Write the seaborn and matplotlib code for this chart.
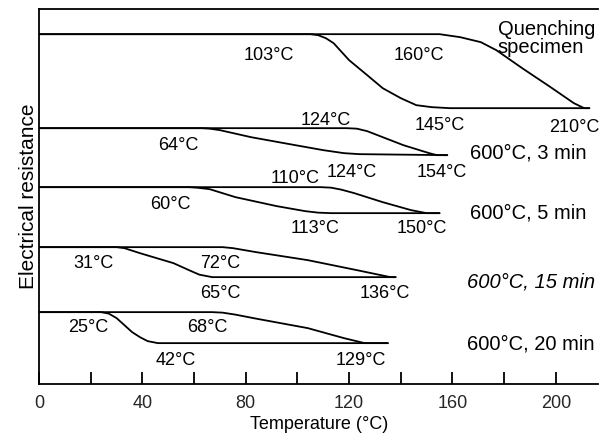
import pandas as pd
import matplotlib.pyplot as plt
import numpy as np
import seaborn as sns
from matplotlib.ticker import MultipleLocator

# Curves: temperature (C) vs relative resistance (arbitrary units)
# Quenching specimen
q_low_t = [0, 105, 108, 111, 114, 120, 127, 133, 140, 146, 152, 159, 213]
q_low_r = [350, 350, 349, 346, 341, 324, 309, 296, 286, 279, 277, 276, 276]
q_up_t = [0, 155, 163, 171, 177, 187, 198, 207, 211, 213]
q_up_r = [350, 350, 347, 342, 334, 316, 297, 281, 276, 276]
# 600C, 3 min
m3_low_t = [0, 63, 66, 70, 82, 97, 110, 118, 124, 158]
m3_low_r = [256, 256, 255.5, 254, 247, 240, 234, 231, 230, 229]
m3_up_t = [0, 119, 123, 127, 131, 141, 151, 154, 158]
m3_up_r = [256, 256, 255.5, 253, 249, 239, 231, 229, 229]
# 600C, 5 min
m5_low_t = [0, 58, 61, 66, 76, 92, 103, 108, 113, 155]
m5_low_r = [197, 197, 196.5, 195, 187, 178, 173, 171.5, 171, 171]
m5_up_t = [0, 109, 113, 117, 122, 133, 144, 150, 155]
m5_up_r = [197, 197, 196.5, 194.5, 191, 182, 174, 171, 171]
# 600C, 15 min
m15_low_t = [0, 30, 33, 39, 52, 58, 62, 67, 138]
m15_low_r = [137, 137, 136, 131, 121, 114, 109.5, 107, 107]
m15_up_t = [0, 71, 75, 84, 104, 123, 136, 138]
m15_up_r = [137, 137, 136, 132, 124, 114, 107, 107]
# 600C, 20 min
m20_low_t = [0, 24, 27, 30, 33, 36, 39, 42, 46, 135]
m20_low_r = [72, 72, 70.5, 66, 59, 52, 47, 43, 41, 41]
m20_up_t = [0, 67, 71, 76, 84, 104, 118, 126, 135]
m20_up_r = [72, 72, 71.5, 69.5, 65.5, 56, 46, 41, 41]

branches = [(q_low_t, q_low_r), (q_up_t, q_up_r),
            (m3_low_t, m3_low_r), (m3_up_t, m3_up_r),
            (m5_low_t, m5_low_r), (m5_up_t, m5_up_r),
            (m15_low_t, m15_low_r), (m15_up_t, m15_up_r),
            (m20_low_t, m20_low_r), (m20_up_t, m20_up_r)]

# temperature labels: text, T, r
temp_labels = ['103°C', '160°C', '145°C', '210°C',
               '124°C', '64°C', '124°C', '154°C',
               '110°C', '60°C', '113°C', '150°C',
               '31°C', '72°C', '65°C', '136°C',
               '25°C', '68°C', '42°C', '129°C']
temp_x = [89, 147, 155, 207,
          111, 54, 121, 156,
          99, 51, 107, 148,
          21, 70, 70, 134,
          19, 65, 53, 124.5]
temp_y = [329, 329, 259, 257,
          264, 239, 212, 212,
          206, 180, 156, 156,
          121, 121, 91, 91,
          57, 57, 24, 24]

cond_labels = ['Quenching\nspecimen', '600°C, 3 min', '600°C, 5 min',
               '600°C, 15 min', '600°C, 20 min']
cond_x = [177.6, 166.8, 166.8, 165.6, 165.6]
cond_y = [346, 231, 171, 102, 40]
cond_style = ['normal', 'normal', 'normal', 'italic', 'normal']

sns.set_theme(style='white')
plt.rcParams['font.family'] = ['Liberation Sans', 'DejaVu Sans']

fig = plt.figure(figsize=(6.02, 4.37), dpi=100)
ax = fig.add_axes([0.065, 0.121, 0.929, 0.858])

for t, r in branches:
    df = pd.DataFrame({'T': t, 'R': r})
    sns.lineplot(x='T', y='R', data=df, ax=ax, color='black', lw=1.3,
                 sort=False, estimator=None)

for s, x, y in zip(temp_labels, temp_x, temp_y):
    ax.text(x, y, s, ha='center', va='center', fontsize=13, color='black')

for s, x, y, st in zip(cond_labels, cond_x, cond_y, cond_style):
    ax.text(x, y, s, ha='left', va='center', fontsize=14.5, color='black',
            style=st, linespacing=0.95)

ax.set_xlim(0, 216.5)
ax.set_ylim(0, 375)
ax.xaxis.set_major_locator(MultipleLocator(40))
ax.xaxis.set_minor_locator(MultipleLocator(20))
ax.tick_params(axis='x', which='both', direction='in', length=9, width=1.3,
               color='black', bottom=True, pad=8, labelsize=13)
ax.set_yticks([])
ax.spines['right'].set_visible(False)
for sp in ['left', 'bottom', 'top']:
    ax.spines[sp].set_color('black')
    ax.spines[sp].set_linewidth(1.3)
ax.set_xlabel('Temperature (°C)', fontsize=13, labelpad=3, color='black')
ax.set_ylabel('Electrical resistance', fontsize=15, labelpad=1, color='black')

plt.savefig('out.png', dpi=100)
